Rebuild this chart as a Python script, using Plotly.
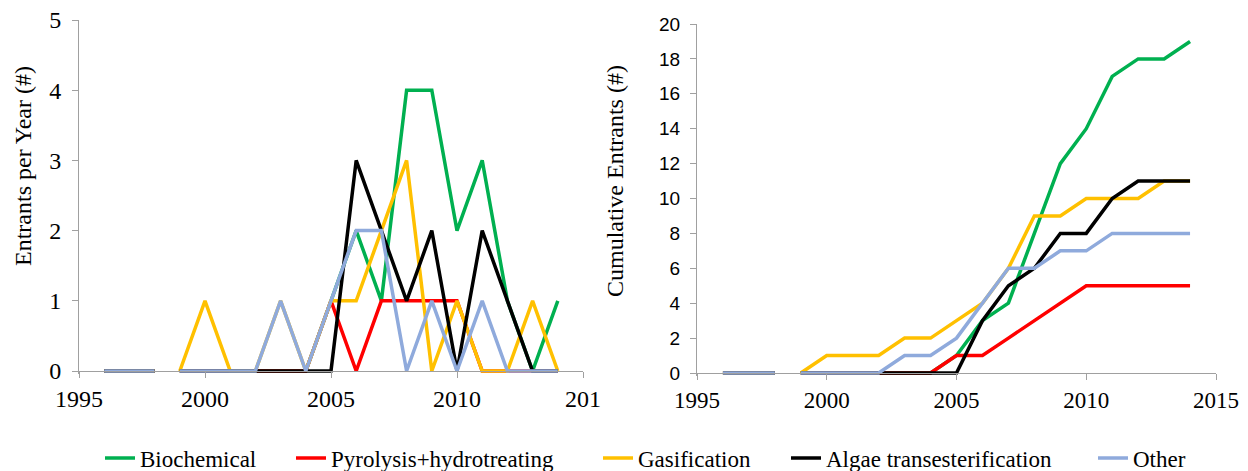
import plotly.graph_objects as go

# ---------------- data ----------------
years = [1996, 1997, 1998, None, 1999, 2000, 2001, 2002, 2003, 2004, 2005,
         2006, 2007, 2008, 2009, 2010, 2011, 2012, 2013, 2014]

series_names = ["Biochemical", "Pyrolysis+hydrotreating", "Gasification",
                "Algae transesterification", "Other"]
series_colors = ["#00B050", "#FF0000", "#FFC000", "#000000", "#8FAADC"]

# entrants per year
bio_year = [0, 0, 0, None, 0, 0, 0, 0, 0, 0, 1, 2, 1, 4, 4, 2, 3, 1, 0, 1]
pyro_year = [0, 0, 0, None, 0, 0, 0, 0, 0, 0, 1, 0, 1, 1, 1, 1, 0, 0, 0, 0]
gas_year = [0, 0, 0, None, 0, 1, 0, 0, 1, 0, 1, 1, 2, 3, 0, 1, 0, 0, 1, 0]
algae_year = [0, 0, 0, None, 0, 0, 0, 0, 0, 0, 0, 3, 2, 1, 2, 0, 2, 1, 0, 0]
other_year = [0, 0, 0, None, 0, 0, 0, 0, 1, 0, 1, 2, 2, 0, 1, 0, 1, 0, 0, 0]

# cumulative entrants
bio_cum = [0, 0, 0, None, 0, 0, 0, 0, 0, 0, 1, 3, 4, 8, 12, 14, 17, 18, 18, 19]
pyro_cum = [0, 0, 0, None, 0, 0, 0, 0, 0, 0, 1, 1, 2, 3, 4, 5, 5, 5, 5, 5]
gas_cum = [0, 0, 0, None, 0, 1, 1, 1, 2, 2, 3, 4, 6, 9, 9, 10, 10, 10, 11, 11]
algae_cum = [0, 0, 0, None, 0, 0, 0, 0, 0, 0, 0, 3, 5, 6, 8, 8, 10, 11, 11, 11]
other_cum = [0, 0, 0, None, 0, 0, 0, 0, 1, 1, 2, 4, 6, 6, 7, 7, 8, 8, 8, 8]

left_ticks = [1995, 2000, 2005, 2010, 2015]
left_ticktext = ["1995", "2000", "2005", "2010", "201"]
right_ticks = [1995, 2000, 2005, 2010, 2015]
right_ticktext = ["1995", "2000", "2005", "2010", "2015"]

left_title = "Entrants per Year (#)"
right_title = "Cumulative Entrants (#)"

yearly = [bio_year, pyro_year, gas_year, algae_year, other_year]
cumulative = [bio_cum, pyro_cum, gas_cum, algae_cum, other_cum]

# ---------------- layout helpers ----------------
OFF = 8                  # page body margin
W, H = 1248 - 2 * OFF, 500
def fx(p):               # page pixel -> paper x
    return (p - OFF) / W
def fy(p):               # page pixel -> paper y
    return 1 - (p - OFF) / H

AXC = "#A0A0A0"
SERIF = "Liberation Serif"
SANS = "Liberation Sans"

# left plot geometry (page pixels)
L_x0, L_x1 = 79, 583
L_y0px, L_y5px = 371, 20
L_unit = (L_y0px - L_y5px) / 5
L_lo = 0.045
L_bottom = L_y0px + L_lo * L_unit

# right plot geometry
R_x0, R_x1 = 697, 1216
R_y0px, R_y20px = 373, 24
R_unit = (R_y0px - R_y20px) / 20
R_lo = 0.18
R_bottom = R_y0px + R_lo * R_unit

LW = 3.5

fig = go.Figure()

legend_ids = ["legend", "legend2", "legend3", "legend4", "legend5"]
for i, name in enumerate(series_names):
    fig.add_trace(go.Scatter(
        x=years, y=yearly[i], mode="lines", name=name,
        line=dict(color=series_colors[i], width=LW),
        connectgaps=False, xaxis="x", yaxis="y",
        legend=legend_ids[i], showlegend=True, hoverinfo="skip"))
for i, name in enumerate(series_names):
    fig.add_trace(go.Scatter(
        x=years, y=cumulative[i], mode="lines", name=name,
        line=dict(color=series_colors[i], width=LW),
        connectgaps=False, xaxis="x2", yaxis="y2",
        showlegend=False, hoverinfo="skip"))

axis_common = dict(showgrid=False, zeroline=False, showline=True,
                   linecolor=AXC, linewidth=1, ticks="outside",
                   ticklen=6, tickcolor=AXC, tickwidth=1, automargin=False,
                   ticklabeloverflow="allow")

layout = dict(
    width=W, height=H,
    margin=dict(l=0, r=0, t=0, b=0, pad=0),
    paper_bgcolor="white", plot_bgcolor="white",
    xaxis=dict(domain=[fx(L_x0), fx(L_x1)], range=[1995, 2015],
               tickvals=left_ticks, ticktext=left_ticktext,
               anchor="free", position=fy(L_y0px),
               tickfont=dict(family=SERIF, size=24, color="black"),
               **axis_common),
    yaxis=dict(domain=[fy(L_bottom), fy(L_y5px)], range=[-L_lo, 5],
               tickvals=[0, 1, 2, 3, 4, 5], anchor="x",
               tickfont=dict(family=SERIF, size=24, color="black"),
               ticklabelstandoff=6,
               **axis_common),
    xaxis2=dict(domain=[fx(R_x0), fx(R_x1)], range=[1995, 2015],
                tickvals=right_ticks, ticktext=right_ticktext,
                anchor="free", position=fy(R_y0px),
                tickfont=dict(family=SERIF, size=23, color="black"),
                **axis_common),
    yaxis2=dict(domain=[fy(R_bottom), fy(R_y20px)], range=[-R_lo, 20],
                tickvals=list(range(0, 21, 2)), anchor="x2",
                tickfont=dict(family=SANS, size=19, color="black"),
                ticklabelstandoff=6,
                **axis_common),
    annotations=[
        dict(text=left_title, x=fx(23), y=fy(166), xref="paper", yref="paper",
             textangle=-90, showarrow=False, xanchor="center", yanchor="middle",
             font=dict(family=SERIF, size=24, color="black")),
        dict(text=right_title, x=fx(615), y=fy(181), xref="paper", yref="paper",
             textangle=-90, showarrow=False, xanchor="center", yanchor="middle",
             font=dict(family=SERIF, size=24, color="black")),
    ],
)

legend_x_px = [107, 298, 605, 793, 1100]
for lid, px in zip(legend_ids, legend_x_px):
    layout[lid] = dict(x=fx(px - 7), y=fy(458), xanchor="left", yanchor="middle",
                       orientation="h", bgcolor="rgba(0,0,0,0)",
                       font=dict(family=SERIF, size=23, color="black"),
                       itemwidth=30)

fig.update_layout(**layout)
fig.write_html("out.html")
